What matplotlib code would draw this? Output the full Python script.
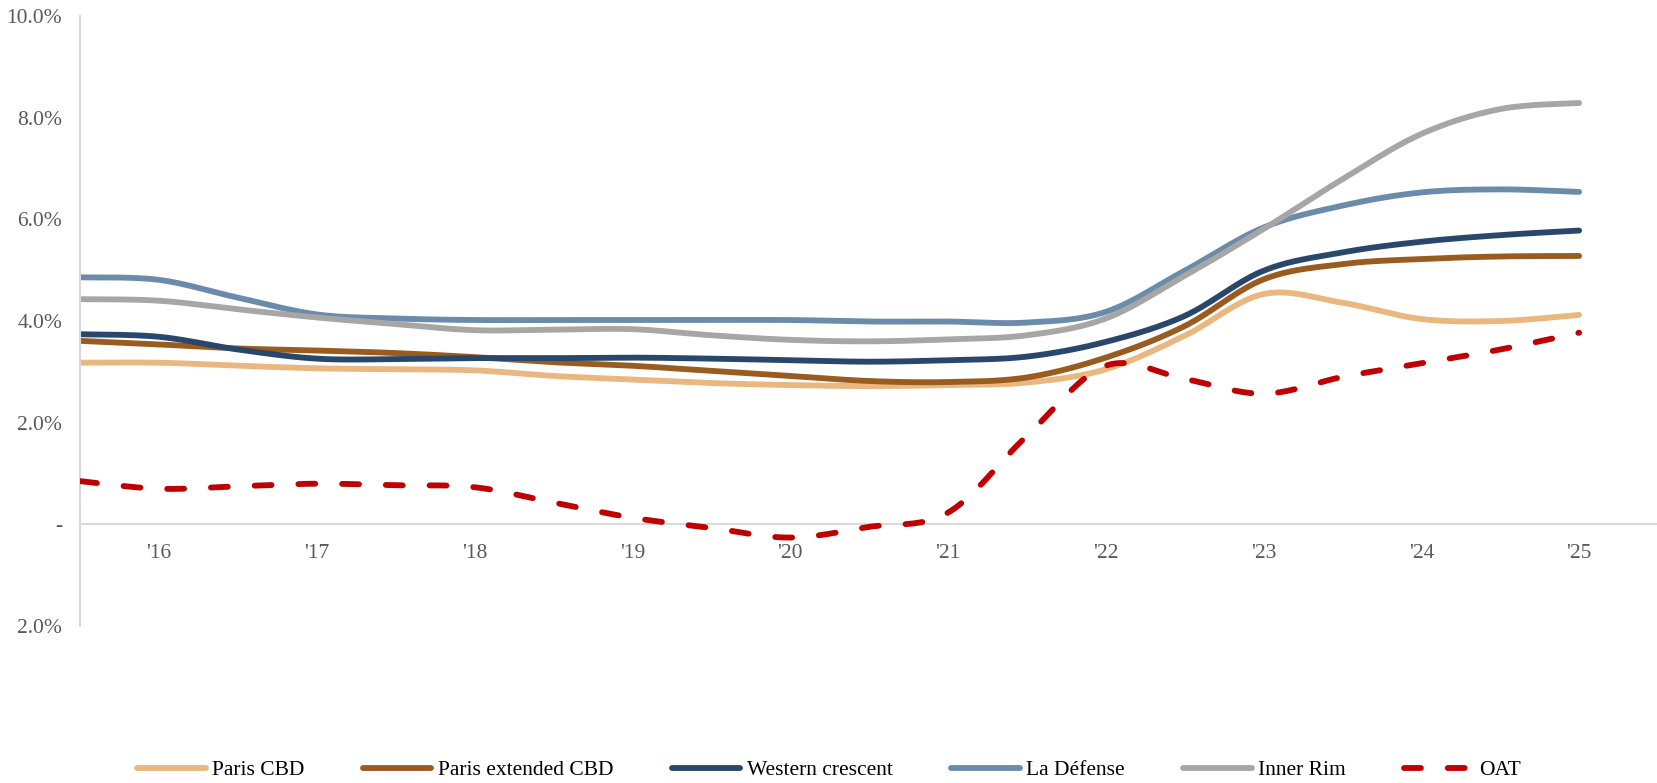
import numpy as np
import matplotlib
matplotlib.use("Agg")
import matplotlib.pyplot as plt
from matplotlib.ticker import FuncFormatter

# half-yearly prime yields (%), H2 2015 .. 2025
years = [2015.5, 2016, 2016.5, 2017, 2017.5, 2018, 2018.5, 2019, 2019.5, 2020,
         2020.5, 2021, 2021.5, 2022, 2022.5, 2023, 2023.5, 2024, 2024.5, 2025]

paris_cbd = [3.18, 3.18, 3.12, 3.07, 3.05, 3.03, 2.92, 2.85, 2.78, 2.74,
             2.72, 2.74, 2.79, 3.05, 3.71, 4.53, 4.36, 4.04, 4.00, 4.12]
paris_ext_cbd = [3.61, 3.54, 3.46, 3.42, 3.37, 3.29, 3.19, 3.12, 3.02, 2.92,
                 2.82, 2.80, 2.89, 3.28, 3.90, 4.82, 5.12, 5.22, 5.27, 5.28]
western_crescent = [3.74, 3.69, 3.44, 3.26, 3.25, 3.27, 3.27, 3.28, 3.26, 3.23,
                    3.20, 3.23, 3.30, 3.59, 4.10, 4.99, 5.35, 5.56, 5.69, 5.78]
la_defense = [4.86, 4.81, 4.46, 4.13, 4.05, 4.02, 4.02, 4.02, 4.02, 4.02,
              3.99, 3.99, 3.97, 4.18, 4.99, 5.84, 6.27, 6.53, 6.59, 6.54]
inner_rim = [4.43, 4.40, 4.23, 4.07, 3.94, 3.82, 3.83, 3.84, 3.72, 3.63,
             3.60, 3.64, 3.72, 4.05, 4.89, 5.81, 6.79, 7.68, 8.17, 8.29]
oat = [0.85, 0.70, 0.75, 0.80, 0.77, 0.73, 0.43, 0.13, -0.07, -0.26,
       -0.05, 0.23, 1.74, 3.12, 2.86, 2.57, 2.90, 3.17, 3.44, 3.77]

year_ticks = [2016, 2017, 2018, 2019, 2020, 2021, 2022, 2023, 2024, 2025]
year_labels = ["'16", "'17", "'18", "'19", "'20", "'21", "'22", "'23", "'24", "'25"]

series = [
    ("Paris CBD", paris_cbd, "#E9B77F", "-"),
    ("Paris extended CBD", paris_ext_cbd, "#9A5B1E", "-"),
    ("Western crescent", western_crescent, "#28476B", "-"),
    ("La Défense", la_defense, "#6A8BAA", "-"),
    ("Inner Rim", inner_rim, "#A6A6A6", "-"),
    ("OAT", oat, "#C00000", "--"),
]


def smooth(x, y, n=24):
    """Bezier smoothing through every point (spreadsheet-style smoothed line)."""
    pts = np.column_stack([x, y]).astype(float)
    out = [pts[0]]
    t = np.linspace(0, 1, n)[1:, None]
    for i in range(len(pts) - 1):
        p0 = pts[max(i - 1, 0)]
        p1 = pts[i]
        p2 = pts[i + 1]
        p3 = pts[min(i + 2, len(pts) - 1)]
        c1 = p1 + (p2 - p0) / 6.0
        c2 = p2 - (p3 - p1) / 6.0
        seg = ((1 - t) ** 3) * p1 + 3 * ((1 - t) ** 2) * t * c1 \
            + 3 * (1 - t) * t ** 2 * c2 + t ** 3 * p2
        out.extend(seg)
    out = np.array(out)
    return out[:, 0], out[:, 1]


fig = plt.figure(figsize=(16.58, 7.83), dpi=100)
ax = fig.add_axes([0.0483, 0.2005, 0.9517, 0.779])

for name, vals, color, ls in series:
    sx, sy = smooth(years, vals)
    if ls == "--":
        ax.plot(sx, sy, color=color, lw=4.2, ls=(0, (2.9, 4.6)),
                dash_capstyle="round", label=name, zorder=3)
    else:
        ax.plot(sx, sy, color=color, lw=4.2, solid_capstyle="round",
                label=name, zorder=2)

ax.set_xlim(2015.5, 2025.5)
ax.set_ylim(-2, 10)
ax.set_yticks(np.arange(-2, 10.1, 2))
ax.yaxis.set_major_formatter(
    FuncFormatter(lambda v, _: "-" if abs(v) < 1e-9 else f"{abs(v):.1f}%"))
ax.set_xticks(year_ticks)
ax.set_xticklabels(year_labels)

for side in ("top", "right"):
    ax.spines[side].set_visible(False)
ax.spines["left"].set_color("#D9D9D9")
ax.spines["left"].set_linewidth(1.5)
ax.spines["bottom"].set_position(("data", 0))
ax.spines["bottom"].set_color("#D9D9D9")
ax.spines["bottom"].set_linewidth(1.5)

ax.tick_params(axis="both", length=0, labelsize=15.5, labelcolor="#595959")
ax.tick_params(axis="x", pad=14)
ax.tick_params(axis="y", pad=13)
for lab in ax.get_xticklabels() + ax.get_yticklabels():
    lab.set_fontfamily("Liberation Serif")

fig.legend(loc="center", bbox_to_anchor=(0.5, 1 - 770 / 783), ncol=6,
           frameon=False, handlelength=3.2, handletextpad=0.3,
           columnspacing=2.7, prop={"family": "Liberation Serif", "size": 15.5})

fig.savefig("out.png", dpi=100)
